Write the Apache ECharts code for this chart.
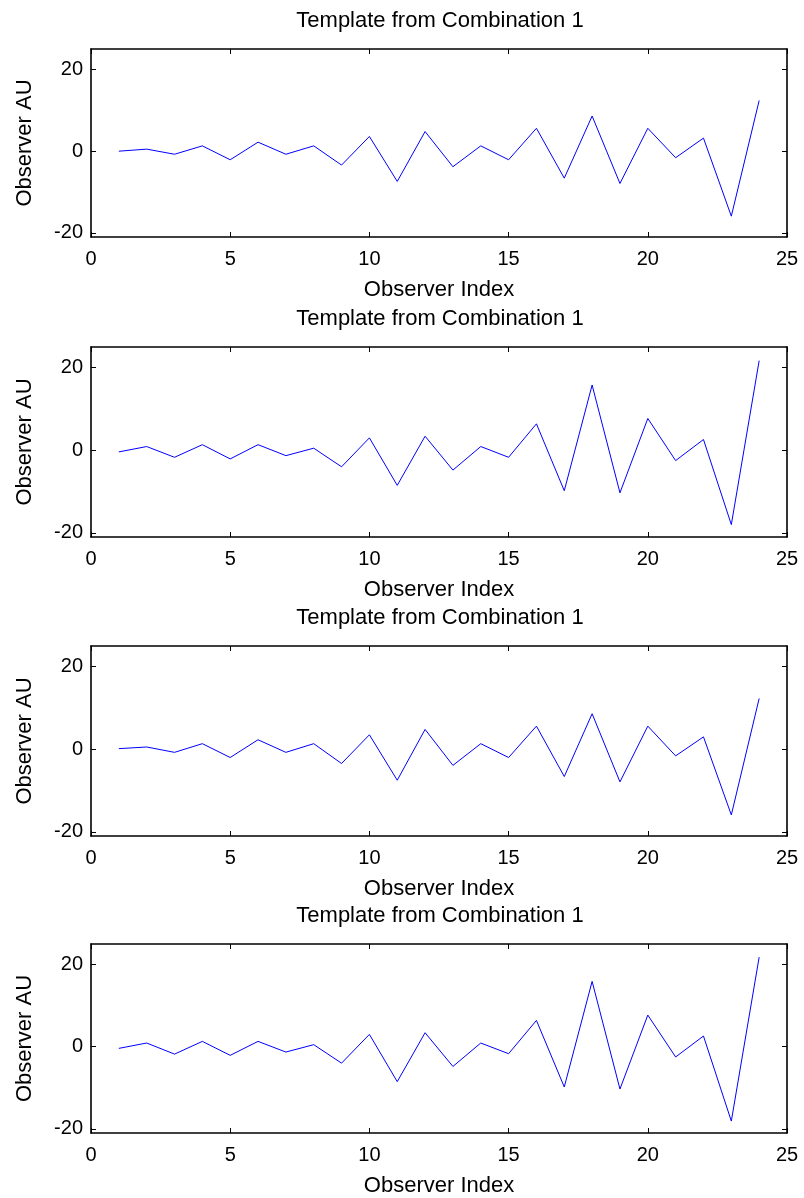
<!DOCTYPE html>
<html><head><meta charset="utf-8">
<script src="https://cdn.jsdelivr.net/npm/echarts@6/dist/echarts.min.js"></script>
<style>html,body{margin:0;padding:0;background:#fff}#c{width:804px;height:1198px}</style>
</head><body><div id="c"></div>
<script>
const observerIndex = [1,2,3,4,5,6,7,8,9,10,11,12,13,14,15,16,17,18,19,20,21,22,23,24];
const auPanel1 = [0.0,0.5,-0.75,1.3,-2.1,2.2,-0.75,1.3,-3.4,3.6,-7.4,4.8,-3.8,1.3,-2.1,5.6,-6.6,8.6,-7.9,5.6,-1.6,3.2,-15.9,12.4];
const auPanel2 = [-0.4,0.9,-1.7,1.35,-2.1,1.35,-1.3,0.5,-4.0,3.0,-8.5,3.4,-4.8,0.9,-1.7,6.4,-9.8,15.8,-10.3,7.7,-2.5,2.6,-18.0,21.7];
const auPanel3 = [0.15,0.55,-0.75,1.35,-2.0,2.3,-0.75,1.35,-3.45,3.5,-7.5,4.8,-3.9,1.35,-2.0,5.6,-6.6,8.6,-7.9,5.6,-1.6,3.0,-15.9,12.3];
const auPanel4 = [-0.4,0.9,-1.8,1.3,-2.1,1.3,-1.3,0.5,-4.0,3.0,-8.5,3.4,-4.8,0.9,-1.7,6.4,-9.8,15.9,-10.3,7.7,-2.5,2.6,-18.1,21.8];
const panelTitles = ['Template from Combination 1','Template from Combination 1','Template from Combination 1','Template from Combination 1'];
const xTickValues = [0,5,10,15,20,25];
const yTickValues = [-20,0,20];
const xLabel = 'Observer Index';
const yLabel = 'Observer AU';

const panels = [auPanel1, auPanel2, auPanel3, auPanel4];
const gridTops = [49, 347, 646, 944];
const gridHeights = [188, 190, 190, 190];
const FONT = '"Liberation Sans", Arial, Helvetica, sans-serif';

const chart = echarts.init(document.getElementById('c'), null, {renderer:'canvas'});
const lineStyle = {color:'#000', width:1.6};
const opt = {
  backgroundColor:'#fff', animation:false,
  textStyle:{fontFamily:FONT},
  title:[], grid:[], xAxis:[], yAxis:[], series:[]
};
panels.forEach((vals, i) => {
  const top = gridTops[i];
  opt.title.push({text:panelTitles[i], left:440, textAlign:'center', top: top - 39, padding:0,
    textStyle:{fontFamily:FONT, fontSize:22, fontWeight:'normal', color:'#000'}});
  opt.grid.push({left:91, right:17, top:top, height:gridHeights[i], containLabel:false});
  const xBase = {type:'value', min:0, max:25, gridIndex:i, splitLine:{show:false},
    axisLine:{show:true, onZero:false, lineStyle:lineStyle}};
  opt.xAxis.push(Object.assign({}, xBase, {position:'bottom',
    name:xLabel, nameLocation:'middle', nameGap:42,
    nameTextStyle:{fontFamily:FONT, fontSize:22, color:'#000'},
    axisTick:{show:true, inside:true, length:5, customValues:xTickValues, lineStyle:{color:'#000', width:1}},
    axisLabel:{show:true, customValues:xTickValues, margin:12, fontFamily:FONT, fontSize:20, color:'#000'}}));
  opt.xAxis.push(Object.assign({}, xBase, {position:'top',
    axisTick:{show:true, inside:true, length:5, customValues:xTickValues, lineStyle:{color:'#000', width:1}},
    axisLabel:{show:false}}));
  const yBase = {type:'value', min:-21, max:25, gridIndex:i, splitLine:{show:false},
    axisLine:{show:true, onZero:false, lineStyle:lineStyle}};
  opt.yAxis.push(Object.assign({}, yBase, {position:'left',
    name:yLabel, nameLocation:'middle', nameGap:55, nameRotate:90,
    nameTextStyle:{fontFamily:FONT, fontSize:22, color:'#000'},
    axisTick:{show:true, inside:true, length:5, customValues:yTickValues, lineStyle:{color:'#000', width:1}},
    axisLabel:{show:true, customValues:yTickValues, margin:8, fontFamily:FONT, fontSize:20, color:'#000'}}));
  opt.yAxis.push(Object.assign({}, yBase, {position:'right',
    axisTick:{show:true, inside:true, length:5, customValues:yTickValues, lineStyle:{color:'#000', width:1}},
    axisLabel:{show:false}}));
  opt.series.push({type:'line', xAxisIndex:2*i, yAxisIndex:2*i,
    data: observerIndex.map((x, k) => [x, vals[k]]),
    showSymbol:false, symbol:'none', lineStyle:{color:'#0000ff', width:1}, silent:true});
});
chart.setOption(opt);
</script>
</body></html>
